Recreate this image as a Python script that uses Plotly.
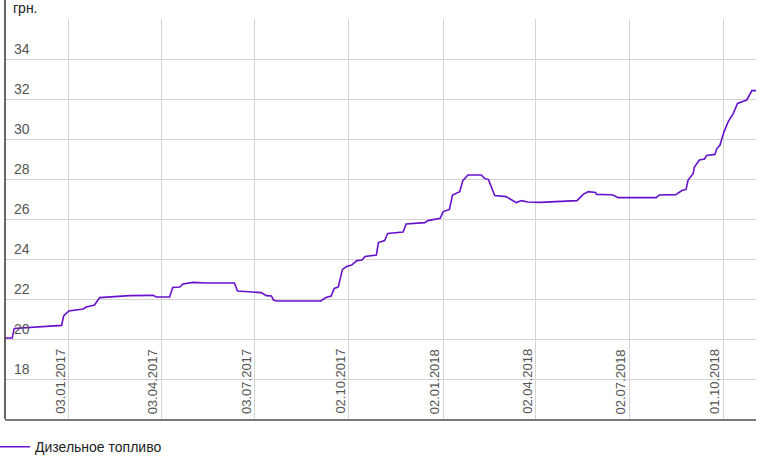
import plotly.graph_objects as go

# ---- data ----
series_name = "Дизельное топливо"
unit_label = "грн."

dates = [
    "2016-11-02", "2016-11-09", "2016-11-11", "2016-12-16", "2016-12-27", "2016-12-29",
    "2017-01-03", "2017-01-17", "2017-01-20", "2017-01-28", "2017-02-02", "2017-03-03",
    "2017-03-26", "2017-03-29", "2017-04-11", "2017-04-14", "2017-04-21", "2017-04-24",
    "2017-05-04", "2017-05-17", "2017-06-13", "2017-06-16", "2017-06-28", "2017-07-09",
    "2017-07-14", "2017-07-19", "2017-07-21", "2017-07-24", "2017-09-05", "2017-09-10",
    "2017-09-15", "2017-09-18", "2017-09-22", "2017-09-26", "2017-09-30", "2017-10-05",
    "2017-10-10", "2017-10-15", "2017-10-18", "2017-10-29", "2017-10-31", "2017-11-06",
    "2017-11-09", "2017-11-24", "2017-11-27", "2017-12-15", "2017-12-18", "2017-12-30",
    "2018-01-02", "2018-01-08", "2018-01-11", "2018-01-18", "2018-01-21", "2018-01-26",
    "2018-02-08", "2018-02-11", "2018-02-15", "2018-02-21", "2018-03-04", "2018-03-14",
    "2018-03-19", "2018-03-25", "2018-04-06", "2018-04-26", "2018-05-12", "2018-05-18",
    "2018-05-23", "2018-05-30", "2018-05-31", "2018-06-13", "2018-06-16", "2018-06-21",
    "2018-07-28", "2018-07-31", "2018-08-16", "2018-08-22", "2018-08-26", "2018-08-28",
    "2018-09-02", "2018-09-03", "2018-09-08", "2018-09-13", "2018-09-15", "2018-09-23",
    "2018-09-25", "2018-09-28", "2018-10-02", "2018-10-06", "2018-10-10", "2018-10-11",
    "2018-10-15", "2018-10-21", "2018-10-24", "2018-10-29", "2018-11-02",
]
prices = [
    20.05, 20.05, 20.53, 20.62, 20.68, 21.15,
    21.40, 21.50, 21.60, 21.70, 22.07, 22.17,
    22.18, 22.10, 22.10, 22.58, 22.60, 22.75,
    22.83, 22.80, 22.80, 22.40, 22.37, 22.32,
    22.17, 22.15, 21.95, 21.90, 21.90, 22.07,
    22.15, 22.53, 22.60, 23.48, 23.62, 23.70,
    23.92, 23.95, 24.13, 24.20, 24.82, 24.92,
    25.28, 25.35, 25.75, 25.82, 25.92, 26.03,
    26.37, 26.48, 27.20, 27.37, 27.92, 28.20,
    28.20, 28.03, 27.97, 27.17, 27.12, 26.82,
    26.92, 26.85, 26.83, 26.87, 26.92, 27.23,
    27.37, 27.33, 27.23, 27.21, 27.20, 27.07,
    27.07, 27.20, 27.22, 27.42, 27.48, 27.95,
    28.28, 28.58, 28.95, 29.00, 29.18, 29.23,
    29.52, 29.70, 30.37, 30.87, 31.20, 31.28,
    31.78, 31.87, 31.95, 32.42, 32.42,
]

x_tick_dates = ["2017-01-03", "2017-04-03", "2017-07-03", "2017-10-02",
                "2018-01-02", "2018-04-02", "2018-07-02", "2018-10-01"]
x_tick_labels = ["03.01.2017", "03.04.2017", "03.07.2017", "02.10.2017",
                 "02.01.2018", "02.04.2018", "02.07.2018", "01.10.2018"]
y_tick_vals = [18, 20, 22, 24, 26, 28, 30, 32, 34, 36]
y_tick_labels = ["18", "20", "22", "24", "26", "28", "30", "32", "34", ""]

FONT = "Liberation Sans, Arial, sans-serif"
GRID = "#d4d4d4"

fig = go.Figure()
fig.add_trace(go.Scatter(
    x=dates, y=prices, mode="lines", name=series_name,
    line=dict(color="#6612cc", width=1.6),
))

# rotated date labels sitting inside the plot, just left of each gridline
date_label_annotations = [
    dict(text=lbl, x=d, xref="x", y=0, yref="paper",
         xanchor="right", yanchor="bottom", xshift=1, yshift=3,
         textangle=-90, showarrow=False,
         font=dict(family=FONT, size=13, color="#555555"))
    for d, lbl in zip(x_tick_dates, x_tick_labels)
]

fig.update_layout(
    width=761, height=462,
    margin=dict(l=5, r=5, t=19, b=43, autoexpand=False),
    paper_bgcolor="white", plot_bgcolor="white",
    font=dict(family=FONT, size=14, color="#555555"),
    showlegend=True,
    legend=dict(
        orientation="h", xref="container", yref="container",
        x=0, y=0.032, xanchor="left", yanchor="middle",
        font=dict(family=FONT, size=14, color="#222222"),
        bgcolor="rgba(0,0,0,0)", itemwidth=30, indentation=-5,
    ),
    xaxis=dict(
        type="date",
        range=["2016-11-02", "2018-11-02"],
        tickmode="array", tickvals=x_tick_dates, showticklabels=False,
        showgrid=True, gridcolor=GRID, gridwidth=1,
        showline=True, linecolor="#7a7a7a", linewidth=2,
        ticks="", zeroline=False, fixedrange=True, automargin=False,
    ),
    yaxis=dict(
        range=[16, 36],
        tickmode="array", tickvals=y_tick_vals, ticktext=y_tick_labels,
        ticklabelposition="inside", ticklabelshift=-10, ticklabelstandoff=6,
        tickfont=dict(family=FONT, size=14, color="#555555"),
        showgrid=True, gridcolor=GRID, gridwidth=1,
        showline=False, ticks="", zeroline=False, fixedrange=True, automargin=False,
    ),
    shapes=[
        dict(type="line", xref="paper", yref="paper",
             x0=0, x1=0, y0=0, y1=1 + 19 / 400,
             line=dict(color="#333333", width=1.5)),
    ],
    annotations=[
        dict(text=unit_label, xref="paper", yref="paper", x=0, y=1,
             xanchor="left", yanchor="bottom", xshift=6, yshift=1,
             showarrow=False, font=dict(family=FONT, size=14, color="#222222")),
    ] + date_label_annotations,
)

fig.write_html("out.html", config={"displayModeBar": False},
               post_script="document.body.style.margin='0';")
